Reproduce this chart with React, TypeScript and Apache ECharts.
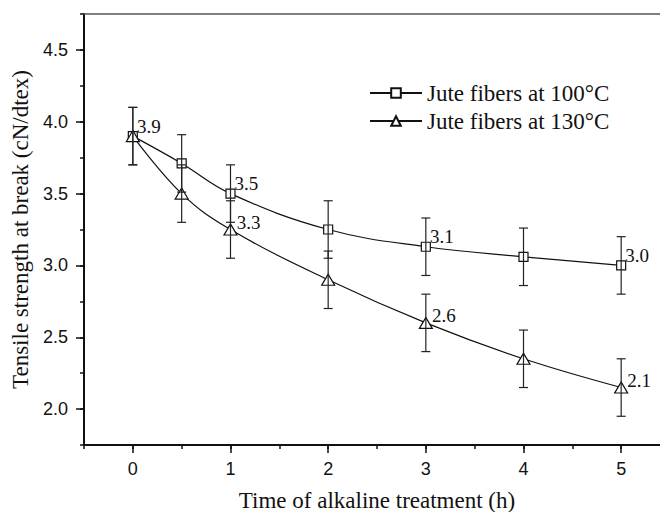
import React, { useEffect, useRef } from 'react';
import * as echarts from 'echarts';

const times = [0, 0.5, 1, 2, 3, 4, 5];
const strength100 = [3.9, 3.71, 3.5, 3.25, 3.13, 3.06, 3.0];
const error100 = [0.2, 0.2, 0.2, 0.2, 0.2, 0.2, 0.2];
const labels100 = ['3.9', '', '3.5', '', '3.1', '', '3.0'];
const strength130 = [3.9, 3.5, 3.25, 2.9, 2.6, 2.35, 2.15];
const error130 = [0.2, 0.2, 0.2, 0.2, 0.2, 0.2, 0.2];
const labels130 = ['', '', '3.3', '', '2.6', '', '2.1'];
const seriesNames = ['Jute fibers at 100°C', 'Jute fibers at 130°C'];
const yMajorTicks = [2.0, 2.5, 3.0, 3.5, 4.0, 4.5];
const xMajorTicks = [0, 1, 2, 3, 4, 5];
const xTitle = 'Time of alkaline treatment (h)';
const yTitle = 'Tensile strength at break (cN/dtex)';

const SERIF = 'Liberation Serif';
const SANS = 'Liberation Sans';
const INK = '#111';

function lineData(vals: number[], labels: string[], dy: number) {
  return times.map((t, i) => ({
    value: [t, vals[i]],
    label: {
      show: labels[i] !== '',
      formatter: labels[i],
      position: 'right',
      distance: 0,
      offset: [-1, dy],
      color: INK,
      fontFamily: SERIF,
      fontSize: 19,
    },
  }));
}

function errData(vals: number[], errs: number[]) {
  return times.map((t, i) => [t, vals[i] - errs[i], vals[i] + errs[i]]);
}

const renderErr = (params: any, api: any) => {
  const x = api.value(0);
  const top = api.coord([x, api.value(2)]);
  const bot = api.coord([x, api.value(1)]);
  const cap = 4.5;
  const style = { stroke: '#222', lineWidth: 1.2 };
  return {
    type: 'group',
    children: [
      { type: 'line', shape: { x1: top[0], y1: top[1], x2: bot[0], y2: bot[1] }, style },
      { type: 'line', shape: { x1: top[0] - cap, y1: top[1], x2: top[0] + cap, y2: top[1] }, style },
      { type: 'line', shape: { x1: bot[0] - cap, y1: bot[1], x2: bot[0] + cap, y2: bot[1] }, style },
    ],
  };
};

export default function App() {
  const ref = useRef<HTMLDivElement>(null);
  useEffect(() => {
    if (!ref.current) return;
    const chart = echarts.init(ref.current, null, { renderer: 'svg' });
    const xRange = { min: -0.5, max: 5.5 };
    const yRange = { min: 1.75, max: 4.75 };
    chart.setOption({
      animation: false,
      backgroundColor: '#fff',
      grid: { left: 84, top: 14, right: -10, bottom: 67, containLabel: false, outerBoundsMode: 'none' },
      legend: {
        data: seriesNames,
        orient: 'vertical',
        left: 364,
        top: 76,
        itemWidth: 52,
        itemHeight: 12,
        itemGap: 4,
        textStyle: { fontFamily: SERIF, fontSize: 23, color: INK, lineHeight: 24 },
      },
      xAxis: [
        {
          type: 'value', ...xRange, interval: 0.5, position: 'bottom',
          name: xTitle, nameLocation: 'middle', nameGap: 44,
          nameTextStyle: { fontFamily: SERIF, fontSize: 23, color: INK },
          axisLine: { onZero: false, lineStyle: { color: INK, width: 2 } },
          axisTick: { length: 4, lineStyle: { color: INK, width: 1.5 } },
          axisLabel: {
            margin: 15, fontFamily: SANS, fontSize: 18, color: INK,
            formatter: (v: number) => (Math.abs(v - Math.round(v)) < 1e-6 ? String(Math.round(v)) : ''),
          },
          splitLine: { show: false },
        },
        {
          type: 'value', ...xRange, position: 'bottom',
          axisLine: { show: false, onZero: false },
          axisTick: { length: 8, customValues: xMajorTicks, lineStyle: { color: INK, width: 1.5 } },
          axisLabel: { show: false },
          splitLine: { show: false },
        },
        {
          type: 'value', ...xRange, interval: 0.5, position: 'top',
          axisLine: { onZero: false, lineStyle: { color: '#555', width: 1.5 } },
          axisTick: { show: false },
          axisLabel: { show: false },
          splitLine: { show: false },
        },
      ],
      yAxis: [
        {
          type: 'value', ...yRange, interval: 0.25, position: 'left',
          name: yTitle, nameLocation: 'middle', nameGap: 52,
          nameTextStyle: { fontFamily: SERIF, fontSize: 23, color: INK },
          axisLine: { onZero: false, lineStyle: { color: INK, width: 2 } },
          axisTick: { length: 4, lineStyle: { color: INK, width: 1.5 } },
          axisLabel: {
            margin: 16, fontFamily: SANS, fontSize: 18, color: INK,
            formatter: (v: number) => (yMajorTicks.some((m) => Math.abs(m - v) < 1e-6) ? v.toFixed(1) : ''),
          },
          splitLine: { show: false },
        },
        {
          type: 'value', ...yRange, position: 'left',
          axisLine: { show: false, onZero: false },
          axisTick: { length: 8, customValues: yMajorTicks, lineStyle: { color: INK, width: 1.5 } },
          axisLabel: { show: false },
          splitLine: { show: false },
        },
      ],
      series: [
        {
          name: seriesNames[0], type: 'line', smooth: 0.4,
          symbol: 'rect', symbolSize: 9,
          lineStyle: { color: INK, width: 1.2 },
          itemStyle: { color: '#fff', borderColor: INK, borderWidth: 1.2 },
          data: lineData(strength100, labels100, -10),
          z: 2,
        },
        {
          name: seriesNames[1], type: 'line', smooth: 0.4,
          symbol: 'triangle', symbolSize: [13, 11],
          lineStyle: { color: INK, width: 1.2 },
          itemStyle: { color: '#fff', borderColor: INK, borderWidth: 1.2 },
          data: lineData(strength130, labels130, -7),
          z: 2,
        },
        {
          name: 'err100', type: 'custom', renderItem: renderErr,
          encode: { x: 0, y: [1, 2] }, data: errData(strength100, error100), z: 3,
        },
        {
          name: 'err130', type: 'custom', renderItem: renderErr,
          encode: { x: 0, y: [1, 2] }, data: errData(strength130, error130), z: 3,
        },
      ],
    });
    return () => chart.dispose();
  }, []);
  return (
    <div
      ref={ref}
      style={{ position: 'fixed', left: 0, top: 0, width: 660, height: 512, background: '#fff' }}
    />
  );
}
